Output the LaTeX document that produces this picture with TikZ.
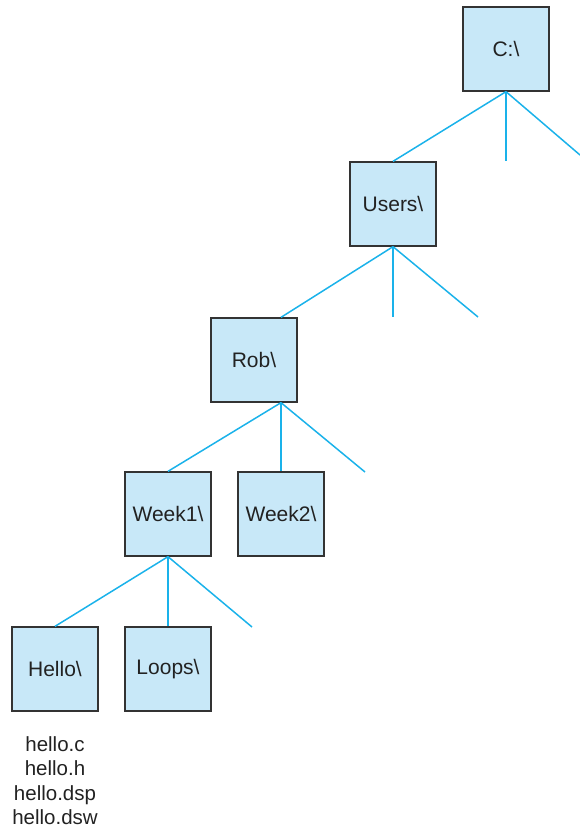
\documentclass[tikz,border=0pt]{standalone}
\usepackage{fontspec}
\setmainfont{Liberation Sans}
\usepackage{tikz}
\definecolor{dirfill}{HTML}{C8E8F8}
\definecolor{dirline}{HTML}{1AB2EA}
\definecolor{dirtext}{HTML}{222222}
\tikzset{folder/.style = {shape = rectangle, draw = black!80, line width = 1.3pt, fill = dirfill, minimum width = 86pt, minimum height = 84pt, inner sep = 0pt, text = dirtext, font = \fontsize{21}{25}\selectfont}}
\tikzset{edge/.style = {-, draw = dirline, line width = 1.5pt}}

\begin{document}
\begin{tikzpicture}[x = 1pt, y = -1pt]
	\useasboundingbox (0, 0) rectangle (580, 828);

	\node[folder] (c) at (506, 49) {C:\textbackslash};
	\node[folder] (users) at (393, 204) {Users\textbackslash};
	\node[folder] (rob) at (254, 360) {Rob\textbackslash};
	\node[folder] (week1) at (168, 514) {Week1\textbackslash};
	\node[folder] (week2) at (281, 514) {Week2\textbackslash};
	\node[folder] (hello) at (55, 669) {Hello\textbackslash};
	\node[folder] (loops) at (168, 669) {Loops\textbackslash};
	\node[anchor = north, align = center, inner sep = 0pt, text = dirtext, font = \fontsize{20.5}{24.5}\selectfont] (files) at (55, 736) {hello.c\\hello.h\\hello.dsp\\hello.dsw};

	\coordinate (c1) at (506, 161);
	\coordinate (c2) at (580, 155);
	\coordinate (u1) at (393, 317);
	\coordinate (u2) at (478, 317);
	\coordinate (r2) at (365, 472);
	\coordinate (w1) at (252, 627);

	\draw[edge] (c.south) to (users.north);
	\draw[edge] (c.south) to (c1);
	\draw[edge] (c.south) to (c2);
	\draw[edge] (users.south) to (rob.north -| week2);
	\draw[edge] (users.south) to (u1);
	\draw[edge] (users.south) to (u2);
	\draw[edge] (rob.south -| week2) to (week1.north);
	\draw[edge] (rob.south -| week2) to (week2.north);
	\draw[edge] (rob.south -| week2) to (r2);
	\draw[edge] (week1.south) to (hello.north);
	\draw[edge] (week1.south) to (loops.north);
	\draw[edge] (week1.south) to (w1);
\end{tikzpicture}
\end{document}
